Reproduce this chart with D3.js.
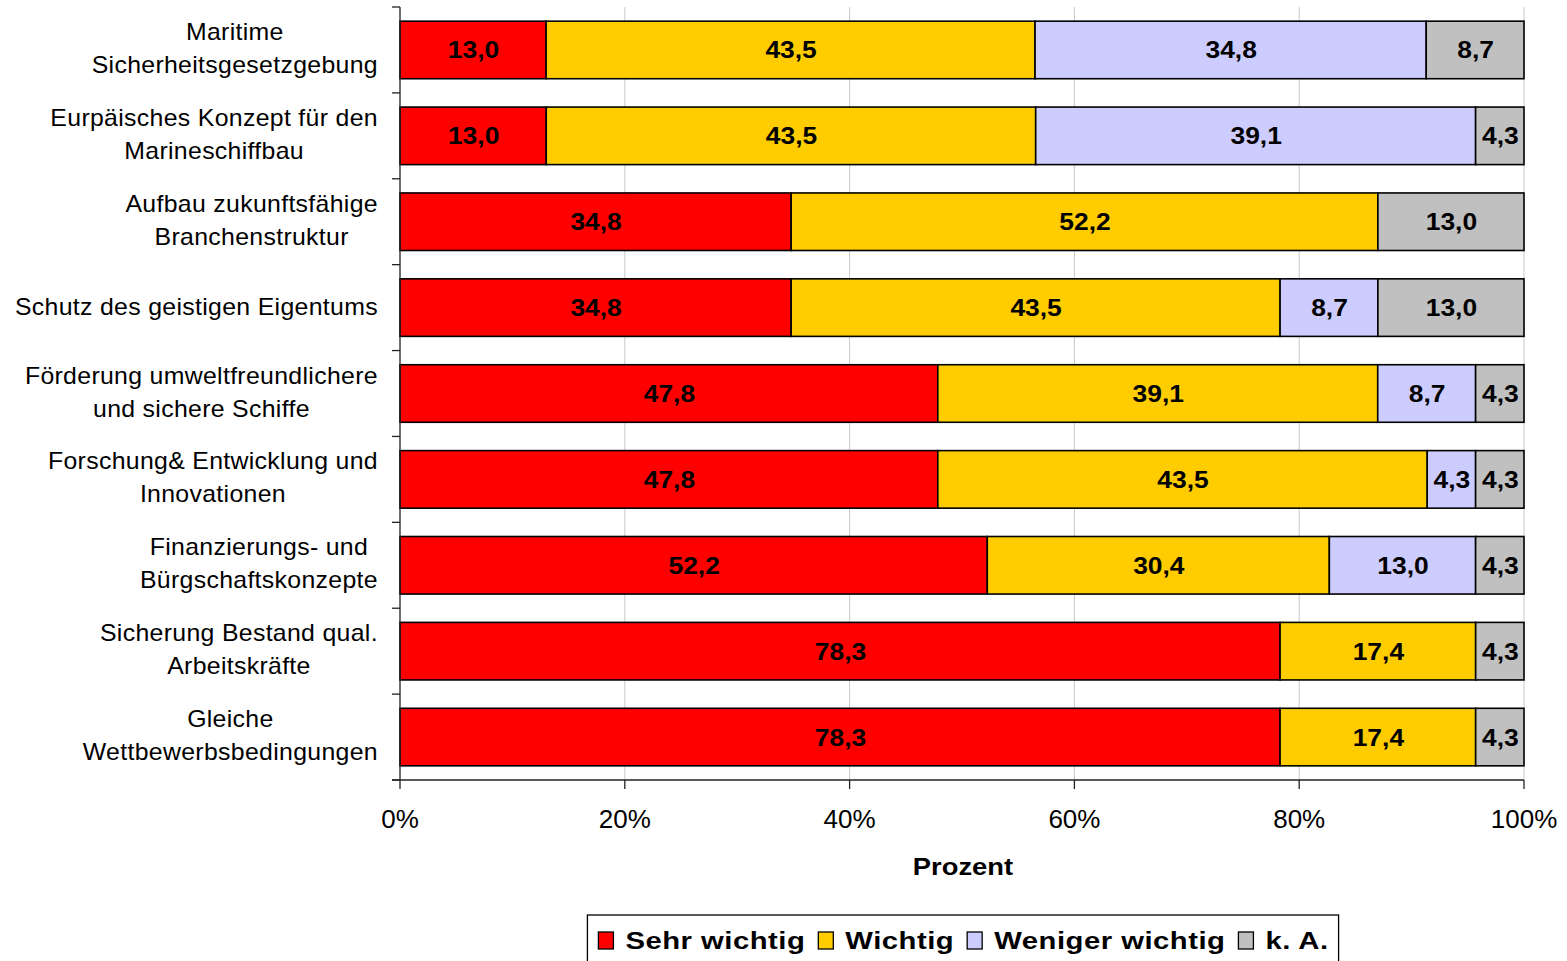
<!DOCTYPE html>
<html>
<head>
<meta charset="utf-8">
<script src="https://cdn.jsdelivr.net/npm/d3@7"></script>
<style>
  html, body { margin: 0; padding: 0; background: #fff; }
  svg { display: block; font-family: Arial, "Liberation Sans", sans-serif; }
</style>
</head>
<body>
<svg id="chart" width="1567" height="961"></svg>
<script>
// ---- data ----
const categories = [
  "Maritime\nSicherheitsgesetzgebung",
  "Eurpäisches Konzept für den\nMarineschiffbau",
  "Aufbau zukunftsfähige\nBranchenstruktur",
  "Schutz des geistigen Eigentums",
  "Förderung umweltfreundlichere\nund sichere Schiffe",
  "Forschung& Entwicklung und\nInnovationen",
  "Finanzierungs- und\nBürgschaftskonzepte",
  "Sicherung Bestand qual.\nArbeitskräfte",
  "Gleiche\nWettbewerbsbedingungen"
];
const seriesNames = ["Sehr wichtig", "Wichtig", "Weniger wichtig", "k. A."];
const sehrWichtig    = [13.0, 13.0, 34.8, 34.8, 47.8, 47.8, 52.2, 78.3, 78.3];
const wichtig        = [43.5, 43.5, 52.2, 43.5, 39.1, 43.5, 30.4, 17.4, 17.4];
const wenigerWichtig = [34.8, 39.1, 0,    8.7,  8.7,  4.3,  13.0, 0,    0   ];
const keineAngabe    = [8.7,  4.3,  13.0, 13.0, 4.3,  4.3,  4.3,  4.3,  4.3 ];
const seriesColors = ["#FF0000", "#FFCC00", "#CCCCFF", "#C0C0C0"];
const xTicks = [0, 0.2, 0.4, 0.6, 0.8, 1.0];
const xAxisTitle = "Prozent";

// ---- layout ----
const svg = d3.select("#chart");
const margin = { left: 400, right: 1524, top: 7, bottom: 780 };
const fmt = v => v.toFixed(1).replace(".", ",");

const seriesValues = [sehrWichtig, wichtig, wenigerWichtig, keineAngabe];
const rows = categories.map((c, i) => {
  const vals = seriesValues.map(s => s[i]);
  const total = d3.sum(vals);
  let acc = 0;
  const segs = vals.map((v, k) => {
    const s = { k, v, x0: acc / total, x1: (acc + v) / total, cat: c };
    acc += v;
    return s;
  });
  return { cat: c, i, segs };
});

const x = d3.scaleLinear().domain([0, 1]).range([margin.left, margin.right]);
const y = d3.scaleBand().domain(categories).range([margin.top, margin.bottom])
  .paddingInner(0.33).paddingOuter(0.165);

// gridlines
svg.append("g").selectAll("line").data(xTicks.filter(t => t > 0)).join("line")
  .attr("x1", d => x(d)).attr("x2", d => x(d))
  .attr("y1", margin.top).attr("y2", margin.bottom)
  .attr("stroke", "#c8c8c8").attr("stroke-width", 1);

// bars
const gRows = svg.append("g").selectAll("g").data(rows).join("g");
gRows.selectAll("rect").data(d => d.segs.filter(s => s.v > 0)).join("rect")
  .attr("x", d => x(d.x0)).attr("width", d => x(d.x1) - x(d.x0))
  .attr("y", d => y(d.cat)).attr("height", y.bandwidth())
  .attr("fill", d => seriesColors[d.k])
  .attr("stroke", "#000").attr("stroke-width", 1.6);

gRows.selectAll("text").data(d => d.segs.filter(s => s.v > 0)).join("text")
  .attr("transform", d => `translate(${(x(d.x0) + x(d.x1)) / 2 + 0.5},${y(d.cat) + y.bandwidth() / 2 + 8.5}) scale(1.1,1)`)
  .attr("text-anchor", "middle")
  .attr("font-size", 24).attr("font-weight", "bold")
  .attr("fill", "#000")
  .text(d => fmt(d.v));

// y axis
svg.append("line").attr("x1", margin.left).attr("x2", margin.left)
  .attr("y1", margin.top).attr("y2", margin.bottom).attr("stroke", "#222").attr("stroke-width", 1.3);
const step = y.step();
svg.append("g").selectAll("line").data(d3.range(categories.length + 1)).join("line")
  .attr("x1", margin.left - 8).attr("x2", margin.left)
  .attr("y1", i => margin.top + i * step).attr("y2", i => margin.top + i * step)
  .attr("stroke", "#222").attr("stroke-width", 1.3);

// category labels
const labelRight = 378;
const labelScale = 1.08;
categories.forEach(c => {
  const lines = c.split("\n");
  const cy = y(c) + y.bandwidth() / 2;
  const g = svg.append("g");
  const texts = lines.map((ln, j) => {
    const ty = lines.length === 1 ? cy + 7 : cy + 6.5 + (j === 0 ? -16.5 : 16.5);
    const t = g.append("text")
      .attr("font-size", 23).attr("letter-spacing", "0.3px").attr("fill", "#000")
      .attr("text-anchor", "middle").text(ln);
    return { t, ty };
  });
  const maxW = d3.max(texts, o => o.t.node().getComputedTextLength()) * labelScale;
  texts.forEach(o => o.t.attr("transform", `translate(${labelRight - maxW / 2},${o.ty}) scale(${labelScale},1)`));
});

// x axis
svg.append("line").attr("x1", margin.left - 8).attr("x2", margin.right)
  .attr("y1", margin.bottom).attr("y2", margin.bottom).attr("stroke", "#222").attr("stroke-width", 1.3);
svg.append("g").selectAll("line").data(xTicks).join("line")
  .attr("x1", d => x(d)).attr("x2", d => x(d))
  .attr("y1", margin.bottom).attr("y2", margin.bottom + 9)
  .attr("stroke", "#222").attr("stroke-width", 1.3);
svg.append("g").selectAll("text").data(xTicks).join("text")
  .attr("x", d => x(d)).attr("y", 828)
  .attr("text-anchor", "middle").attr("font-size", 26).attr("fill", "#000")
  .text(d => Math.round(d * 100) + "%");

svg.append("text")
  .attr("transform", `translate(${(margin.left + margin.right) / 2 + 1},875) scale(1.14,1)`)
  .attr("text-anchor", "middle").attr("font-size", 24).attr("font-weight", "bold")
  .text(xAxisTitle);

// legend
const legendScale = 1.22;
const legend = svg.append("g");
const legendItems = seriesNames.map((n, k) => {
  const g = legend.append("g");
  g.append("rect").attr("x", 0).attr("y", -17).attr("width", 15).attr("height", 17)
    .attr("fill", seriesColors[k]).attr("stroke", "#000").attr("stroke-width", 1.3);
  const t = g.append("text").attr("transform", `translate(27,0) scale(${legendScale},1)`)
    .attr("font-size", 24).attr("font-weight", "bold").attr("letter-spacing", "0.4px").text(n);
  return { g, w: 27 + t.node().getComputedTextLength() * legendScale };
});
let lx = 0;
legendItems.forEach(it => { it.g.attr("transform", `translate(${lx},0)`); lx += it.w + 13; });
const totalW = lx - 13;
const padL = 11, padR = 10;
const boxW = totalW + padL + padR;
const boxX = (margin.left + margin.right) / 2 - boxW / 2 + 1;
legend.attr("transform", `translate(${boxX + padL},949)`);
svg.insert("rect", "g").attr("x", boxX).attr("y", 915).attr("width", boxW).attr("height", 60)
  .attr("fill", "#fff").attr("stroke", "#000").attr("stroke-width", 1.3);
</script>
</body>
</html>
